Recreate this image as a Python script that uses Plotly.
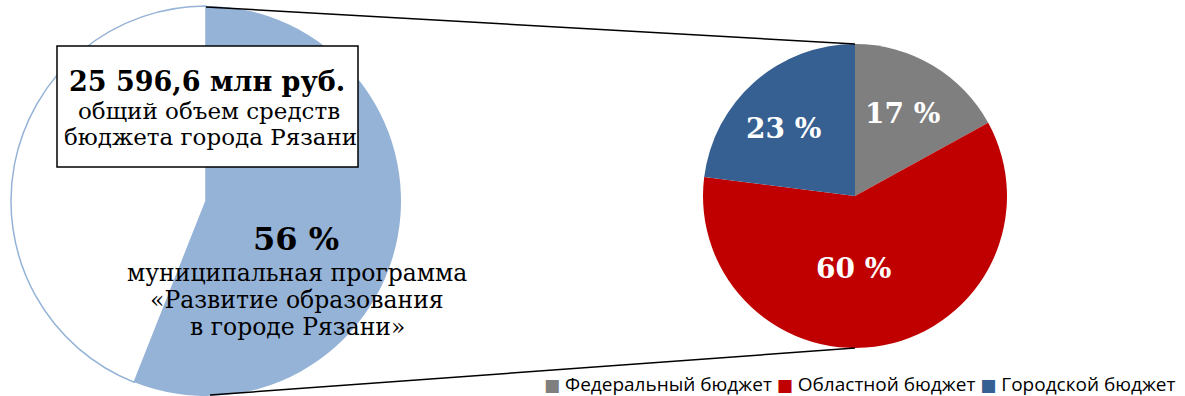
import plotly.graph_objects as go

# Canvas size in pixels
W, H = 1185, 396

# Left pie: share of the education programme in the city budget
share_labels = ["Муниципальная программа", "Прочие расходы"]
share_values = [56, 44]
share_colors = ["#95B3D7", "#FFFFFF"]

# Right pie: sources of financing of the programme
source_labels = ["Федеральный бюджет", "Областной бюджет", "Городской бюджет"]
source_values = [17, 60, 23]
source_colors = ["#7F7F7F", "#C00000", "#376092"]

total_text = "25 596,6 млн руб."
total_caption = ["общий объем средств", "бюджета города Рязани"]
programme_caption = ["муниципальная программа", "«Развитие образования", "в городе Рязани»"]

SERIF = "DejaVu Serif"
SANS = "Open Sans"


def px(x):
    return x / W


def py(y):
    return 1 - y / H


def domain(cx, cy, r):
    return dict(x=[px(cx - r), px(cx + r)], y=[py(cy + r), py(cy - r)])


# pie geometry (pixels)
L_CX, L_CY, L_R = 206, 201, 195
R_CX, R_CY, R_R = 855, 196, 152

fig = go.Figure()

fig.add_trace(go.Pie(
    labels=share_labels,
    values=share_values,
    sort=False,
    direction="clockwise",
    rotation=0,
    marker=dict(colors=share_colors,
                line=dict(color=["rgba(0,0,0,0)", "#95B3D7"], width=[0, 1.5])),
    textinfo="none",
    hoverinfo="label+percent",
    showlegend=False,
    domain=domain(L_CX, L_CY, L_R),
))

fig.add_trace(go.Pie(
    labels=source_labels,
    values=source_values,
    sort=False,
    direction="clockwise",
    rotation=0,
    marker=dict(colors=source_colors, line=dict(width=0)),
    textinfo="none",
    hoverinfo="label+percent",
    showlegend=False,
    domain=domain(R_CX, R_CY, R_R),
))

shapes = [
    # connectors between the two pies
    dict(type="line", xref="paper", yref="paper",
         x0=px(L_CX), y0=py(L_CY - L_R + 1), x1=px(R_CX), y1=py(R_CY - R_R),
         line=dict(color="#000000", width=1.5)),
    dict(type="line", xref="paper", yref="paper",
         x0=px(L_CX + 4), y0=py(L_CY + L_R - 1), x1=px(R_CX), y1=py(R_CY + R_R),
         line=dict(color="#000000", width=1.5)),
    # caption box
    dict(type="rect", xref="paper", yref="paper",
         x0=px(57), y0=py(167), x1=px(358), y1=py(46),
         line=dict(color="#000000", width=1.5), fillcolor="#FFFFFF"),
]

ann = []


def text_at(x, y, s, size, bold=False, color="#000000", family=SERIF):
    ann.append(dict(x=px(x), y=py(y), xref="paper", yref="paper",
                    text=f"<b>{s}</b>" if bold else s, showarrow=False,
                    xanchor="center", yanchor="middle",
                    font=dict(family=family, size=size, color=color)))


# caption inside the box (y = visual middle of each line)
text_at(207, 81, total_text, 27, bold=True)
text_at(209, 111, total_caption[0], 23)
text_at(210, 137, total_caption[1], 23)

# programme share text
text_at(296, 239, f"{share_values[0]} %", 32, bold=True)
for i, line in enumerate(programme_caption):
    text_at(297, 273 + 27 * i, line, 23.5)

# percentage labels on the right pie
label_pos = [(902, 114), (853, 268), (783, 128)]
for (x, y), v in zip(label_pos, source_values):
    text_at(x, y, f"{v} %", 28, bold=True, color="#FFFFFF")

# legend line
legend_text = "\u00a0".join(
    f"<span style='color:{c};font-size:17px;font-family:DejaVu Sans'>■</span>\u00a0{lab}"
    for c, lab in zip(source_colors, source_labels)
)
ann.append(dict(x=px(1178), y=py(384), xref="paper", yref="paper",
                text=legend_text, showarrow=False, xanchor="right", yanchor="middle",
                font=dict(family=SANS, size=19, color="#000000")))

fig.update_layout(
    width=W, height=H,
    margin=dict(l=0, r=0, t=0, b=0),
    paper_bgcolor="#FFFFFF",
    plot_bgcolor="#FFFFFF",
    shapes=shapes,
    annotations=ann,
)

fig.write_html("out.html")
